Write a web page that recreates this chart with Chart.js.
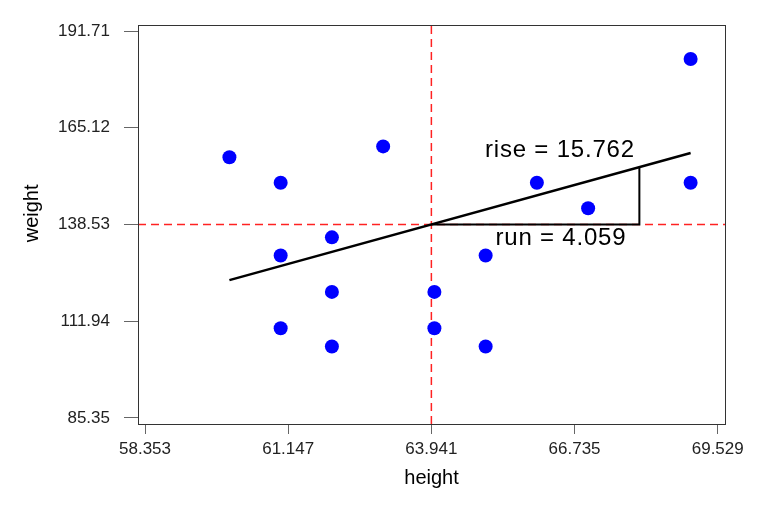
<!DOCTYPE html>
<html>
<head>
<meta charset="utf-8">
<script src="https://cdn.jsdelivr.net/npm/chart.js@4"></script>
<style>
  html, body { margin: 0; padding: 0; background: #fff; }
  canvas { display: block; }
</style>
</head>
<body>
<canvas id="rise-run" width="764" height="518"></canvas>
<script>
  // observed points
  const heights = [60, 61, 61, 61, 62, 62, 62, 63, 64, 64, 65, 65, 66, 67, 69, 69];
  const weights = [157, 150, 130, 110, 135, 120, 105, 160, 120, 110, 130, 105, 150, 143, 184, 150];

  // means and the fitted slope shown as rise / run
  const meanHeight = 63.941;
  const meanWeight = 138.53;
  const rise = 15.762;
  const run = 4.059;

  // fitted line end points and the rise/run triangle
  const fitX = [60, 69];
  const fitY = [123.23, 158.17];
  const triX = [63.941, 68.0, 68.0];
  const triY = [138.53, 138.53, 154.29];

  const xTicks = [58.353, 61.147, 63.941, 66.735, 69.529];
  const xTickLabels = ['58.353', '61.147', '63.941', '66.735', '69.529'];
  const yTicks = [85.35, 111.94, 138.53, 165.12, 191.71];
  const yTickLabels = ['85.35', '111.94', '138.53', '165.12', '191.71'];

  const xMin = 58.216, xMax = 69.671;
  const yMin = 83.70, yMax = 193.36;

  const FONT = 'Liberation Sans, Arial, sans-serif';

  const pts = heights.map((h, i) => ({ x: h, y: weights[i] }));

  const frame = {
    id: 'frame',
    afterDraw(chart) {
      const { ctx, chartArea: a } = chart;
      ctx.save();
      ctx.strokeStyle = '#333';
      ctx.lineWidth = 1;
      ctx.strokeRect(Math.round(a.left) + 0.5, Math.round(a.top) + 0.5,
        Math.round(a.right - a.left), Math.round(a.bottom - a.top));
      ctx.restore();
    }
  };

  const labels = {
    id: 'labels',
    afterDatasetsDraw(chart) {
      const { ctx, scales: { x, y } } = chart;
      ctx.save();
      ctx.fillStyle = '#000';
      ctx.font = '24px ' + FONT;
      ctx.letterSpacing = '0.8px';
      ctx.textAlign = 'center';
      ctx.textBaseline = 'alphabetic';
      ctx.fillText('rise = ' + rise.toFixed(3), x.getPixelForValue(66.45), y.getPixelForValue(157.1));
      ctx.fillText('run = ' + run.toFixed(3), x.getPixelForValue(66.47), y.getPixelForValue(132.9));
      ctx.restore();
    }
  };

  const config = {
    type: 'scatter',
    data: {
      datasets: [
        {
          data: pts,
          backgroundColor: '#0000ff',
          borderWidth: 0,
          pointRadius: 7,
          order: 1
        },
        {
          data: fitX.map((v, i) => ({ x: v, y: fitY[i] })),
          showLine: true,
          borderColor: '#000',
          borderWidth: 2.5,
          pointRadius: 0,
          order: 2
        },
        {
          data: triX.map((v, i) => ({ x: v, y: triY[i] })),
          showLine: true,
          borderColor: '#000',
          borderWidth: 2,
          pointRadius: 0,
          order: 2
        },
        {
          data: [{ x: meanHeight, y: yMin }, { x: meanHeight, y: yMax }],
          showLine: true,
          borderColor: '#f22',
          borderWidth: 1.5,
          borderDash: [8, 5],
          pointRadius: 0,
          order: 3
        },
        {
          data: [{ x: xMin, y: meanWeight }, { x: xMax, y: meanWeight }],
          showLine: true,
          borderColor: '#f22',
          borderWidth: 1.5,
          borderDash: [8, 5],
          pointRadius: 0,
          order: 3
        }
      ]
    },
    options: {
      responsive: false,
      animation: false,
      devicePixelRatio: 1,
      layout: { padding: { left: 0, top: 25, right: 39, bottom: 0 } },
      plugins: {
        legend: { display: false },
        tooltip: { enabled: false }
      },
      scales: {
        x: {
          type: 'linear',
          min: xMin,
          max: xMax,
          afterBuildTicks: s => { s.ticks = xTicks.map(v => ({ value: v })); },
          afterFit: s => { s.height = 94; },
          ticks: {
            callback: (v, i) => xTickLabels[i],
            font: { family: FONT, size: 17 },
            color: '#222',
            padding: 5,
            maxRotation: 0,
            autoSkip: false
          },
          grid: { drawOnChartArea: false, tickLength: 10, color: '#666' },
          border: { display: false },
          title: {
            display: true,
            text: 'height',
            font: { family: FONT, size: 20 },
            color: '#000',
            padding: { top: 0, bottom: 28 }
          }
        },
        y: {
          type: 'linear',
          min: yMin,
          max: yMax,
          afterBuildTicks: s => { s.ticks = yTicks.map(v => ({ value: v })); },
          afterFit: s => { s.width = 138; },
          ticks: {
            callback: (v, i) => yTickLabels[i],
            font: { family: FONT, size: 17 },
            color: '#222',
            padding: 14,
            autoSkip: false
          },
          grid: { drawOnChartArea: false, tickLength: 14, color: '#666' },
          border: { display: false },
          title: {
            display: true,
            text: '    weight',
            font: { family: FONT, size: 20 },
            color: '#000',
            padding: { top: 20, bottom: 0 }
          }
        }
      }
    },
    plugins: [frame, labels]
  };

  const chart = new Chart(document.getElementById('rise-run'), config);
</script>
</body>
</html>
